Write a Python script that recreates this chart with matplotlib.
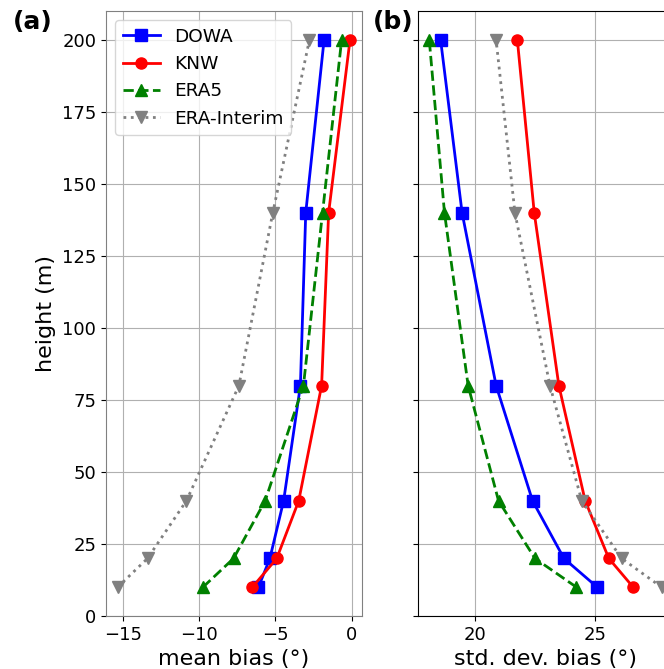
import matplotlib
matplotlib.use("Agg")
import matplotlib.pyplot as plt

heights = [10, 20, 40, 80, 140, 200]

mean_dowa = [-6.1, -5.35, -4.45, -3.35, -3.0, -1.8]
mean_knw = [-6.5, -4.9, -3.46, -1.96, -1.5, -0.1]
mean_era5 = [-9.74, -7.73, -5.66, -3.15, -1.9, -0.65]
mean_erai = [-15.33, -13.37, -10.82, -7.38, -5.16, -2.76]

std_dowa = [25.08, 23.7, 22.4, 20.89, 19.48, 18.59]
std_knw = [26.57, 25.56, 24.58, 23.49, 22.47, 21.77]
std_era5 = [24.22, 22.5, 20.99, 19.73, 18.75, 18.12]
std_erai = [27.75, 26.09, 24.44, 23.12, 21.67, 20.89]

names = ["DOWA", "KNW", "ERA5", "ERA-Interim"]
styles = [
    dict(color="blue", marker="s", linestyle="-"),
    dict(color="red", marker="o", linestyle="-"),
    dict(color="green", marker="^", linestyle="--"),
    dict(color="gray", marker="v", linestyle=":"),
]

fig = plt.figure(figsize=(6.64, 6.69), dpi=100)
ax1 = fig.add_axes([0.1596, 0.0792, 0.385, 0.904])
ax2 = fig.add_axes([0.629, 0.0792, 0.385, 0.904], sharey=ax1)

for vals, name, st in zip([mean_dowa, mean_knw, mean_era5, mean_erai], names, styles):
    ax1.plot(vals, heights, label=name, lw=2, markersize=8, **st)
for vals, name, st in zip([std_dowa, std_knw, std_era5, std_erai], names, styles):
    ax2.plot(vals, heights, label=name, lw=2, markersize=8, **st)

ax1.set_ylim(0, 210)
ax1.set_xticks([-15, -10, -5, 0])
ax2.set_xticks([20, 25])
ax1.set_yticks(range(0, 201, 25))

for ax in (ax1, ax2):
    ax.grid(True, color="#b0b0b0", lw=0.8)
    ax.tick_params(labelsize=13)
ax2.tick_params(labelleft=False)
for sp in ax1.spines.values():
    sp.set_color("0.5")

ax1.set_xlabel("mean bias (°)", fontsize=16)
ax2.set_xlabel("std. dev. bias (°)", fontsize=16)
ax1.set_ylabel("height (m)", fontsize=16)
ax1.legend(loc="upper left", fontsize=13.3)

fig.text(0.08, 0.985, "(a)", fontsize=18, fontweight="bold", ha="right", va="top")
fig.text(0.622, 0.985, "(b)", fontsize=18, fontweight="bold", ha="right", va="top")

fig.savefig("out.png", dpi=100)
